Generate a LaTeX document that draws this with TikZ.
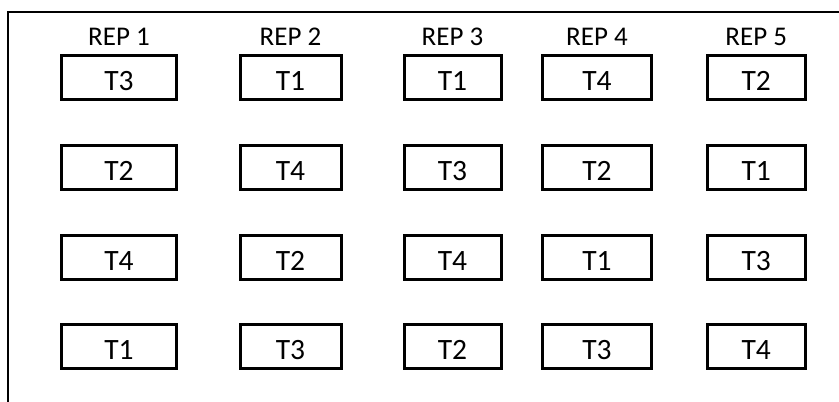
\documentclass[tikz,border=0pt]{standalone}
\usepackage{fontspec}
\setmainfont{Carlito}
\begin{document}
\begin{tikzpicture}[x=1pt,y=-1pt,
  tbox/.style={draw=black,line width=3pt,rectangle,inner sep=0pt,
    minimum height=44pt,text height=27pt,text depth=0pt,
    font=\fontsize{29.5pt}{32pt}\selectfont},
  replabel/.style={anchor=base,inner sep=0pt,font=\fontsize{27pt}{30pt}\selectfont},
  frame/.style={line width=2pt,line cap=rect}]
\useasboundingbox (0,0) rectangle (839,402);
\coordinate (fa) at (8,402);
\coordinate (fb) at (8,12);
\coordinate (fc) at (840,12);
\draw[frame] (fa) -- (fb) -- (fc);
% column centres
\def\colA{119}\def\colB{290.5}\def\colC{452.5}\def\colD{597}\def\colE{756.25}
\node[replabel] (r1) at (\colA,45) {REP 1};
\node[replabel] (r2) at (\colB,45) {REP 2};
\node[replabel] (r3) at (\colC,45) {REP 3};
\node[replabel] (r4) at (\colD,45) {REP 4};
\node[replabel] (r5) at (\colE,45) {REP 5};
% row 1
\node[tbox,minimum width=115pt] (a1) at (\colA,77) {T3};
\node[tbox,minimum width=101pt] (b1) at (\colB,77) {T1};
\node[tbox,minimum width=97pt]  (c1) at (\colC,77) {T1};
\node[tbox,minimum width=109pt] (d1) at (\colD,77) {T4};
\node[tbox,minimum width=97.5pt] (e1) at (\colE,77) {T2};
% row 2
\node[tbox,minimum width=115pt] (a2) at (\colA,167) {T2};
\node[tbox,minimum width=101pt] (b2) at (\colB,167) {T4};
\node[tbox,minimum width=97pt]  (c2) at (\colC,167) {T3};
\node[tbox,minimum width=109pt] (d2) at (\colD,167) {T2};
\node[tbox,minimum width=97.5pt] (e2) at (\colE,167) {T1};
% row 3
\node[tbox,minimum width=115pt] (a3) at (\colA,257) {T4};
\node[tbox,minimum width=101pt] (b3) at (\colB,257) {T2};
\node[tbox,minimum width=97pt]  (c3) at (\colC,257) {T4};
\node[tbox,minimum width=109pt] (d3) at (\colD,257) {T1};
\node[tbox,minimum width=97.5pt] (e3) at (\colE,257) {T3};
% row 4
\node[tbox,minimum width=115pt] (a4) at (\colA,346) {T1};
\node[tbox,minimum width=101pt] (b4) at (\colB,346) {T3};
\node[tbox,minimum width=97pt]  (c4) at (\colC,346) {T2};
\node[tbox,minimum width=109pt] (d4) at (\colD,346) {T3};
\node[tbox,minimum width=97.5pt] (e4) at (\colE,346) {T4};
\end{tikzpicture}
\end{document}
